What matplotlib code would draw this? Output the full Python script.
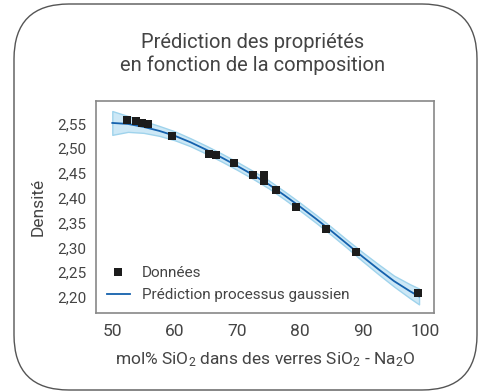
import numpy as np
import matplotlib
matplotlib.use("Agg")
import matplotlib.pyplot as plt
from matplotlib.patches import FancyBboxPatch

plt.rcParams['font.family'] = ['Roboto', 'DejaVu Sans']
plt.rcParams['mathtext.fontset'] = 'custom'
plt.rcParams['mathtext.rm'] = 'Roboto'
plt.rcParams['mathtext.it'] = 'Roboto'

# measured densities
sio2 = [52.3, 53.8, 54.7, 55.7, 59.6, 65.5, 66.5, 69.5, 72.4, 74.3, 74.3, 76.2, 79.3, 84.2, 89.0, 98.9]
density = [2.557, 2.555, 2.550, 2.548, 2.524, 2.488, 2.486, 2.470, 2.446, 2.447, 2.433, 2.416, 2.382, 2.337, 2.290, 2.208]

# gaussian process prediction
gp_x = [50, 52.5, 55, 57.5, 60, 62.5, 65, 67.5, 70, 72.5, 75, 77.5, 80, 82.5, 85, 87.5, 90, 92.5, 95, 97.5, 99]
gp_mean = [2.551, 2.549, 2.543, 2.535, 2.525, 2.512, 2.497, 2.481, 2.464, 2.446, 2.427, 2.405,
           2.382, 2.358, 2.333, 2.307, 2.281, 2.256, 2.232, 2.212, 2.201]
gp_err = [0.024, 0.016, 0.012, 0.010, 0.009, 0.008, 0.008, 0.008, 0.008, 0.008, 0.008, 0.008,
          0.008, 0.008, 0.008, 0.008, 0.009, 0.010, 0.011, 0.014, 0.016]

yticks = [2.20, 2.25, 2.30, 2.35, 2.40, 2.45, 2.50, 2.55]
xticks = [50, 60, 70, 80, 90, 100]

fig = plt.figure(figsize=(4.85, 3.92), dpi=100)
ax = fig.add_axes([0.198, 0.202, 0.697, 0.540])

# rounded outer frame
box = FancyBboxPatch((0.14, 0.02), 4.63, 3.86, boxstyle="round,pad=0,rounding_size=0.55",
                     transform=fig.dpi_scale_trans, fill=False, edgecolor='#555555', lw=1.0)
fig.patches.append(box)

lo = np.array(gp_mean) - np.array(gp_err)
hi = np.array(gp_mean) + np.array(gp_err)
ax.fill_between(gp_x, lo, hi, facecolor='#cde8f6', edgecolor='#9fd3ec', lw=1.0)
ax.plot(gp_x, gp_mean, color='#1461ad', lw=1.3, label='Prédiction processus gaussien')
ax.plot(sio2, density, 's', color='#1c1c1c', ms=5.2, mew=0, ls='none', label='Données')

ax.set_xlim(47.4, 101.4)
ax.set_ylim(2.168, 2.595)
ax.set_xticks(xticks)
ax.set_yticks(yticks)
ax.set_yticklabels([f"{v:.2f}".replace('.', ',') for v in yticks])
ax.tick_params(axis='x', length=0, pad=8, labelsize=12.5, labelcolor='#444444')
ax.tick_params(axis='y', length=0, pad=7, labelsize=11, labelcolor='#444444')
for s in ax.spines.values():
    s.set_color('#888888')
    s.set_linewidth(1.2)

ax.set_ylabel('Densité', fontsize=12.5, color='#444444', labelpad=8)
ax.set_xlabel('mol% SiO$_2$ dans des verres SiO$_2$ - Na$_2$O', fontsize=12.5,
              color='#444444', labelpad=8)

h, l = ax.get_legend_handles_labels()
ax.legend(h[::-1], l[::-1], loc='lower left', frameon=False, fontsize=11,
          labelcolor='#444444', handlelength=1.5, borderaxespad=0.3)

fig.text(0.52, 0.862, 'Prédiction des propriétés\nen fonction de la composition',
         ha='center', va='center', fontsize=14.5, color='#444444', linespacing=1.25)

fig.savefig('out.png', dpi=100)
